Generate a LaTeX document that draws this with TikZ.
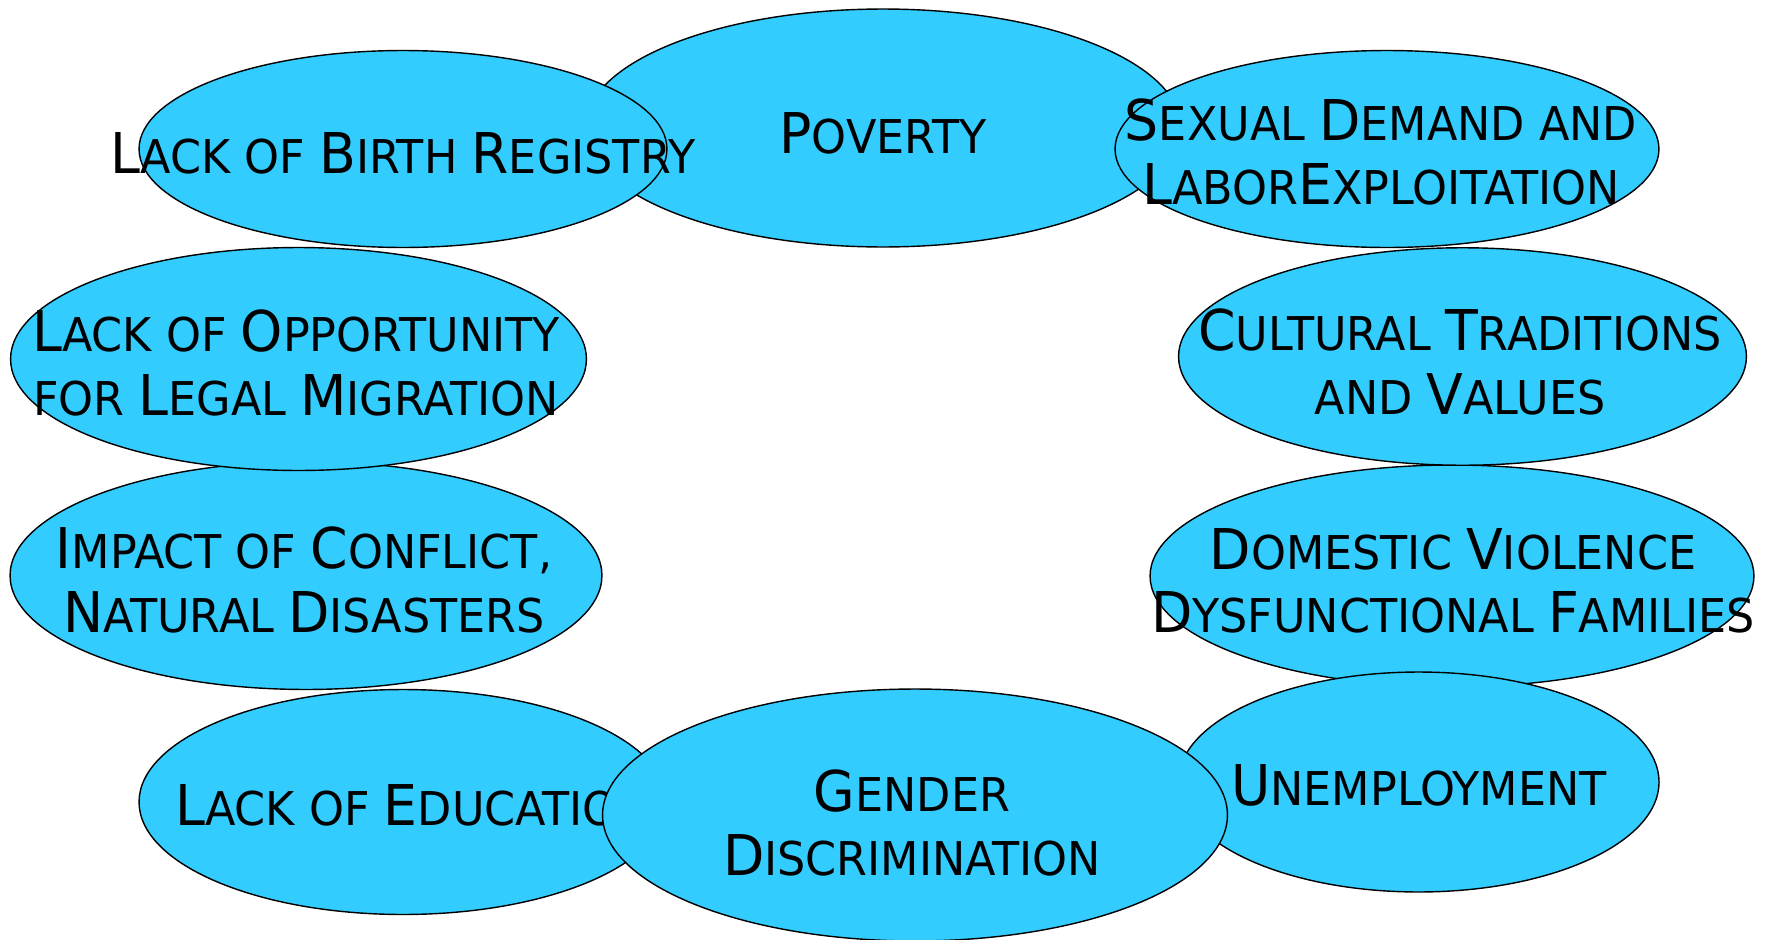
\documentclass[tikz,border=0pt]{standalone}
\usepackage{fontspec}
\setmainfont{DejaVu Sans}[FakeStretch=0.955]
\usetikzlibrary{shapes.geometric}
\definecolor{skyfill}{RGB}{51,204,255}
% initial letters of the small caps words
\newcommand\ini[1]{{\fontsize{32}{36}\selectfont #1}}
\tikzset{
  blob/.style={ellipse, draw=black, line width=0.8pt, fill=skyfill,
    inner sep=0pt, outer sep=0pt},
  lbl/.style={align=center, inner sep=0pt, text=black,
    font=\fontsize{26.5}{36}\selectfont}
}
\begin{document}
\begin{tikzpicture}[x=0.02cm, y=-0.02cm]
  \useasboundingbox (0,0) rectangle (1766,940);
  % top row
  \node[blob, minimum width=11.92cm, minimum height=4.76cm] (poverty) at (883,128) {};
  \node[lbl] (povertytext) at (883,133) {\ini{P}OVERTY};
  \node[blob, minimum width=10.56cm, minimum height=3.94cm] (birth) at (403,149) {};
  \node[lbl] (birthtext) at (403,153) {\ini{L}ACK OF \ini{B}IRTH \ini{R}EGISTRY};
  \node[blob, minimum width=10.88cm, minimum height=3.94cm] (sexual) at (1387,149) {};
  \node[lbl] (sexualtext) at (1381,152) {\ini{S}EXUAL \ini{D}EMAND AND\\ \ini{L}ABOR\ini{E}XPLOITATION};
  % left side
  \node[blob, minimum width=11.84cm, minimum height=4.56cm] (conflict) at (306,575.5) {};
  \node[lbl] (conflicttext) at (304,580) {\ini{I}MPACT OF \ini{C}ONFLICT,\\ \ini{N}ATURAL \ini{D}ISASTERS};
  \node[blob, minimum width=11.52cm, minimum height=4.46cm] (migration) at (298.5,359) {};
  \node[lbl] (migrationtext) at (296,363) {\ini{L}ACK OF \ini{O}PPORTUNITY\\ FOR \ini{L}EGAL \ini{M}IGRATION};
  % right side
  \node[blob, minimum width=12.08cm, minimum height=4.44cm] (violence) at (1452,576) {};
  \node[lbl] (violencetext) at (1453,581) {\ini{D}OMESTIC \ini{V}IOLENCE\\ \ini{D}YSFUNCTIONAL \ini{F}AMILIES};
  \node[blob, minimum width=11.36cm, minimum height=4.35cm] (culture) at (1462.5,356.5) {};
  \node[lbl] (culturetext) at (1460,362) {\ini{C}ULTURAL \ini{T}RADITIONS\\ AND \ini{V}ALUES};
  % bottom row
  \node[blob, minimum width=10.56cm, minimum height=4.5cm] (education) at (403,802) {};
  \node[lbl, anchor=west] (educationtext) at (175,805) {\ini{L}ACK OF \ini{E}DUCATION};
  \node[blob, minimum width=9.62cm, minimum height=4.4cm] (jobs) at (1418.6,782) {};
  \node[lbl] (jobstext) at (1419,785) {\ini{U}NEMPLOYMENT};
  \node[blob, minimum width=12.5cm, minimum height=5.04cm] (gender) at (915,815) {};
  \node[lbl] (gendertext) at (912,823) {\ini{G}ENDER\\ \ini{D}ISCRIMINATION};
\end{tikzpicture}
\end{document}
